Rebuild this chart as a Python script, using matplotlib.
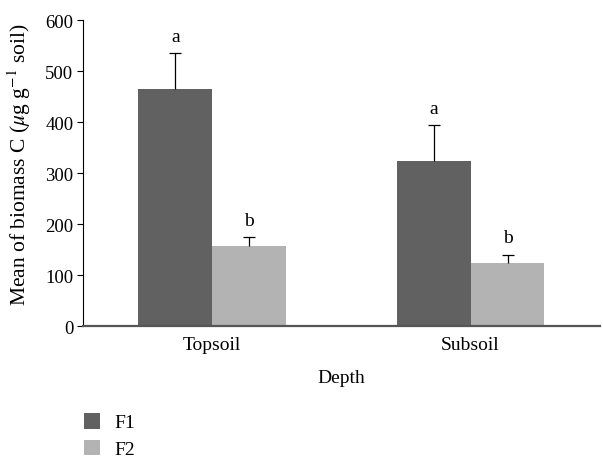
import matplotlib
matplotlib.use("Agg")
import matplotlib.pyplot as plt
import numpy as np

plt.rcParams['font.family'] = ['Liberation Serif', 'DejaVu Serif']
plt.rcParams['mathtext.fontset'] = 'stix'

# data
depths = ["Topsoil", "Subsoil"]
series = ["F1", "F2"]
f1_mean = [464, 323]
f1_err = [71, 71]
f2_mean = [157, 123]
f2_err = [17, 17]
f1_letters = ["a", "a"]
f2_letters = ["b", "b"]

colors = {"F1": "#616161", "F2": "#b3b3b3"}

fig = plt.figure(figsize=(6.03, 4.60), dpi=100)
ax = fig.add_axes([0.1376, 0.289, 0.857, 0.665])

x = np.arange(len(depths))
w = 0.286

b1 = ax.bar(x - w / 2, f1_mean, w, color=colors["F1"], label="F1")
b2 = ax.bar(x + w / 2, f2_mean, w, color=colors["F2"], label="F2")

# upper-only error bars with a cap at the top
for xs, m, e in [(x - w / 2, f1_mean, f1_err), (x + w / 2, f2_mean, f2_err)]:
    top = np.array(m) + np.array(e)
    ax.vlines(xs, m, top, color="black", linewidth=0.9)
    ax.plot(xs, top, linestyle="none", marker="_", markersize=8,
            markeredgewidth=0.9, color="black")

for i in range(len(x)):
    ax.annotate(f1_letters[i], (x[i] - w / 2, f1_mean[i] + f1_err[i]),
                xytext=(0, 6), textcoords="offset points",
                ha="center", va="bottom", fontsize=14)
    ax.annotate(f2_letters[i], (x[i] + w / 2, f2_mean[i] + f2_err[i]),
                xytext=(0, 6), textcoords="offset points",
                ha="center", va="bottom", fontsize=14)

ax.set_xlim(-0.5, 1.5)
ax.set_ylim(0, 600)
ax.set_yticks(range(0, 601, 100))
ax.set_xticks(x)
ax.set_xticklabels(depths)
ax.tick_params(axis="x", length=0, pad=7, labelsize=14)
ax.tick_params(axis="y", length=4, width=0.8, direction="out", labelsize=13.5, pad=3)

ax.spines["top"].set_visible(False)
ax.spines["right"].set_visible(False)
ax.spines["left"].set_linewidth(0.8)
ax.spines["bottom"].set_color("#555555")
ax.spines["bottom"].set_linewidth(1.6)

ax.set_xlabel("Depth", fontsize=14, labelpad=12)
ax.set_ylabel(r"Mean of biomass C ($\mu$g g$^{-1}$ soil)", fontsize=15.5)
ax.yaxis.set_label_coords(-0.097, 0.53)

fig.legend(handles=[b1, b2], labels=series, loc="upper left",
           bbox_to_anchor=(0.139, 0.1), frameon=False, fontsize=14,
           handlelength=0.85, handleheight=0.85, handletextpad=0.7,
           labelspacing=0.42, borderaxespad=0, borderpad=0)

fig.savefig("out.png", dpi=100)
